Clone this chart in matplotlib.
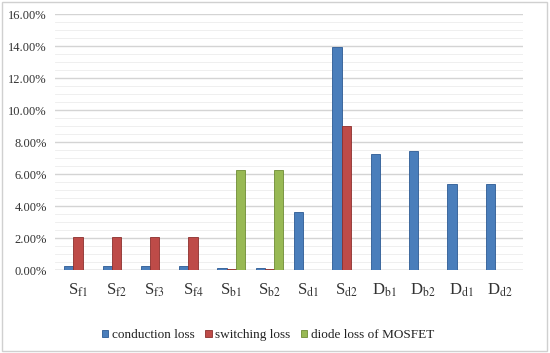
import numpy as np
import matplotlib
matplotlib.use("Agg")
import matplotlib.pyplot as plt
from matplotlib.ticker import FuncFormatter, MultipleLocator

plt.rcParams["font.family"] = ["Liberation Serif", "DejaVu Serif"]
plt.rcParams["mathtext.fontset"] = "stix"

# data (percent)
labels = ["S$_\\mathrm{f1}$", "S$_\\mathrm{f2}$", "S$_\\mathrm{f3}$", "S$_\\mathrm{f4}$",
          "S$_\\mathrm{b1}$", "S$_\\mathrm{b2}$", "S$_\\mathrm{d1}$", "S$_\\mathrm{d2}$",
          "D$_\\mathrm{b1}$", "D$_\\mathrm{b2}$", "D$_\\mathrm{d1}$", "D$_\\mathrm{d2}$"]
conduction = [0.25, 0.25, 0.25, 0.25, 0.15, 0.15, 3.6, 13.95, 7.25, 7.45, 5.35, 5.35]
switching = [2.07, 2.07, 2.07, 2.07, 0.05, 0.05, 0.03, 9.0, 0.03, 0.03, 0.03, 0.03]
diode = [0.03, 0.03, 0.03, 0.03, 6.25, 6.25, 0.03, 0.03, 0.03, 0.03, 0.03, 0.03]
series_names = ["conduction loss", "switching loss", "diode loss of MOSFET"]
colors = ["#4a7ebb", "#be4b48", "#98b954"]
edges = ["#2c5a94", "#8c2f2d", "#6e8c34"]

fig = plt.figure(figsize=(5.5, 3.53), dpi=100)
ax = fig.add_axes([0.1, 0.235, 0.85, 0.725])

x = np.arange(len(labels))
w = 0.24
for i, vals in enumerate([conduction, switching, diode]):
    ax.bar(x + (i - 1) * w, vals, width=w, color=colors[i], edgecolor=edges[i],
           linewidth=0.6, label=series_names[i], zorder=3)

ax.set_ylim(0, 16)
ax.set_xlim(-0.6, len(labels) - 0.4)
ax.yaxis.set_major_locator(MultipleLocator(2))
ax.yaxis.set_minor_locator(MultipleLocator(0.5))
ax.yaxis.set_major_formatter(FuncFormatter(lambda v, p: f"{v:.2f}%"))
ax.grid(axis="y", which="major", color="#d4d4d4", linewidth=1.0, zorder=0)
ax.grid(axis="y", which="minor", color="#ececec", linewidth=0.6, zorder=0)
ax.set_xticks(x)
ax.set_xticklabels(labels, fontsize=12, color="#333333")
ax.tick_params(axis="y", labelsize=9, length=0, which="both", pad=6, labelcolor="#333333")
ax.tick_params(axis="x", length=0, pad=8)
for s in ax.spines.values():
    s.set_visible(False)
ax.axhline(0, color="#c8c8c8", linewidth=1, zorder=2)

fig.legend(loc="lower center", bbox_to_anchor=(0.487, 0.0), ncol=3, frameon=False,
           fontsize=9.5, handlelength=0.5, handleheight=0.5, handletextpad=0.25,
           columnspacing=0.8, labelcolor="#222222")

fig.patches.append(plt.Rectangle((0.004, 0.006), 0.99, 0.988, transform=fig.transFigure,
                                 fill=False, edgecolor="#d0d0d0", linewidth=1))

fig.savefig("out.png", dpi=100)
